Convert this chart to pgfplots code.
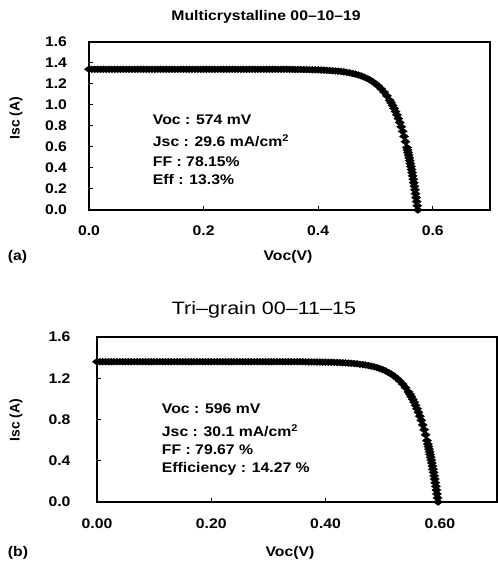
\documentclass[border=0pt]{standalone}
\usepackage{pgfplots}
\pgfplotsset{compat=1.18}
\usepackage{fontspec}
\setmainfont{Liberation Sans}
\newcommand{\lbl}{\fontsize{14}{16}\selectfont\bfseries}

\pgfplotsset{
  ivpanel/.style={
    scale only axis, anchor=south west,
    xmin=0, xmax=0.7, ymin=0, ymax=1.6,
    axis line style={line width=1.2pt},
    tick style={line width=1pt, black},
    major tick length=4pt,
    tick align=inside, xtick pos=bottom, ytick pos=left,
    ticklabel style={font=\lbl, xscale=1.13},
    /pgf/number format/assume math mode=true,
    /pgf/number format/fixed, /pgf/number format/fixed zerofill,
    mark size=4.6pt,
  },
  ivmarks/.style={only marks, mark=diamond*, black, mark options={rotate=90}},
}

\begin{document}
\begin{tikzpicture}[x=1bp,y=1bp]
\useasboundingbox (0,0) rectangle (498,563);

% (a) multicrystalline
\begin{axis}[ivpanel, at={(89bp,353bp)}, width=401bp, height=168bp,
  xtick={0,0.2,0.4,0.6}, ytick={0,0.2,...,1.6},
  xticklabel style={/pgf/number format/precision=1, yshift=-12pt},
  yticklabel style={/pgf/number format/precision=1, xshift=-16pt}]
\addplot[ivmarks] coordinates {
(0.000,1.34)(0.005,1.34)(0.010,1.34)(0.015,1.34)(0.020,1.34)(0.025,1.34)(0.030,1.34)(0.035,1.34)
(0.040,1.34)(0.045,1.34)(0.050,1.34)(0.055,1.34)(0.060,1.34)(0.065,1.34)(0.070,1.34)(0.075,1.34)
(0.080,1.34)(0.085,1.34)(0.090,1.34)(0.095,1.34)(0.100,1.34)(0.105,1.34)(0.110,1.34)(0.115,1.34)
(0.120,1.34)(0.125,1.34)(0.130,1.34)(0.135,1.34)(0.140,1.34)(0.145,1.34)(0.150,1.34)(0.155,1.34)
(0.160,1.34)(0.165,1.34)(0.170,1.34)(0.175,1.34)(0.180,1.34)(0.185,1.34)(0.190,1.34)(0.195,1.34)
(0.200,1.34)(0.205,1.34)(0.210,1.34)(0.215,1.34)(0.220,1.34)(0.225,1.34)(0.230,1.34)(0.235,1.34)
(0.240,1.34)(0.245,1.34)(0.250,1.34)(0.255,1.34)(0.260,1.34)(0.265,1.34)(0.270,1.34)(0.275,1.34)
(0.280,1.34)(0.285,1.34)(0.290,1.34)(0.295,1.34)(0.300,1.34)(0.305,1.34)(0.310,1.34)(0.315,1.34)
(0.320,1.34)(0.325,1.34)(0.330,1.34)(0.335,1.34)(0.340,1.34)(0.345,1.34)(0.350,1.34)(0.355,1.339)
(0.360,1.338)(0.365,1.338)(0.370,1.338)(0.375,1.337)(0.380,1.337)(0.385,1.336)(0.390,1.335)
(0.395,1.335)(0.400,1.334)(0.405,1.333)(0.410,1.332)(0.415,1.330)(0.420,1.328)(0.425,1.326)
(0.430,1.324)(0.435,1.322)(0.440,1.319)(0.445,1.315)(0.450,1.311)(0.455,1.306)(0.460,1.300)
(0.465,1.294)(0.470,1.286)(0.475,1.277)(0.480,1.266)(0.485,1.254)(0.490,1.240)(0.495,1.223)
(0.500,1.203)(0.505,1.181)(0.510,1.154)(0.515,1.123)(0.520,1.087)(0.525,1.045)(0.5275,1.021)
(0.530,0.995)(0.5325,0.968)(0.535,0.938)(0.5375,0.906)(0.540,0.871)(0.5425,0.833)(0.545,0.792)
(0.5475,0.749)(0.550,0.701)(0.5525,0.650)(0.555,0.595)(0.556,0.571)(0.557,0.547)(0.558,0.522)
(0.559,0.497)(0.560,0.470)(0.561,0.443)(0.562,0.415)(0.563,0.386)(0.564,0.356)(0.565,0.325)
(0.566,0.293)(0.567,0.260)(0.568,0.226)(0.569,0.192)(0.570,0.155)(0.571,0.118)(0.572,0.080)
(0.573,0.041)(0.574,0.0)
};
\end{axis}
\node[font=\lbl, xscale=1.13, anchor=base] at (266,542) {Multicrystalline 00--10--19};
\node[font=\lbl, xscale=1.13, anchor=base west] at (149,438) {Voc : 574 mV};
\node[font=\lbl, xscale=1.13, anchor=base west] at (149,416) {Jsc : 29.6 mA/cm\textsuperscript{2}};
\node[font=\lbl, xscale=1.13, anchor=base west] at (149,396) {FF : 78.15\%};
\node[font=\lbl, xscale=1.13, anchor=base west] at (149,378) {Eff : 13.3\%};
\node[font=\lbl, xscale=1.13, anchor=base] at (288,302) {Voc(V)};
\node[font=\lbl, xscale=1.13, anchor=base west] at (4,302) {(a)};
\node[font=\lbl, rotate=90, anchor=center] at (16,445) {Isc (A)};

% (b) tri-grain
\begin{axis}[ivpanel, at={(97bp,61bp)}, width=400bp, height=165bp,
  xtick={0,0.2,0.4,0.6}, ytick={0,0.4,0.8,1.2,1.6},
  xticklabel style={/pgf/number format/precision=2, yshift=-13pt},
  yticklabel style={/pgf/number format/precision=1, xshift=-20pt}]
\addplot[ivmarks] coordinates {
(0.000,1.36)(0.005,1.36)(0.010,1.36)(0.015,1.36)(0.020,1.36)(0.025,1.36)(0.030,1.36)(0.035,1.36)
(0.040,1.36)(0.045,1.36)(0.050,1.36)(0.055,1.36)(0.060,1.36)(0.065,1.36)(0.070,1.36)(0.075,1.36)
(0.080,1.36)(0.085,1.36)(0.090,1.36)(0.095,1.36)(0.100,1.36)(0.105,1.36)(0.110,1.36)(0.115,1.36)
(0.120,1.36)(0.125,1.36)(0.130,1.36)(0.135,1.36)(0.140,1.36)(0.145,1.36)(0.150,1.36)(0.155,1.36)
(0.160,1.36)(0.165,1.36)(0.170,1.36)(0.175,1.36)(0.180,1.36)(0.185,1.36)(0.190,1.36)(0.195,1.36)
(0.200,1.36)(0.205,1.36)(0.210,1.36)(0.215,1.36)(0.220,1.36)(0.225,1.36)(0.230,1.36)(0.235,1.36)
(0.240,1.36)(0.245,1.36)(0.250,1.36)(0.255,1.36)(0.260,1.36)(0.265,1.36)(0.270,1.36)(0.275,1.36)
(0.280,1.36)(0.285,1.36)(0.290,1.36)(0.295,1.36)(0.300,1.36)(0.305,1.36)(0.310,1.36)(0.315,1.36)
(0.320,1.36)(0.325,1.36)(0.330,1.36)(0.335,1.36)(0.340,1.36)(0.345,1.36)(0.350,1.36)(0.355,1.36)
(0.360,1.36)(0.365,1.359)(0.370,1.358)(0.375,1.358)(0.380,1.358)(0.385,1.357)(0.390,1.357)
(0.395,1.356)(0.400,1.356)(0.405,1.355)(0.410,1.355)(0.415,1.354)(0.420,1.353)(0.425,1.352)
(0.430,1.350)(0.435,1.349)(0.440,1.347)(0.445,1.345)(0.450,1.342)(0.455,1.340)(0.460,1.336)
(0.465,1.333)(0.470,1.328)(0.475,1.323)(0.480,1.317)(0.485,1.311)(0.490,1.303)(0.495,1.293)
(0.500,1.283)(0.505,1.271)(0.510,1.256)(0.515,1.240)(0.520,1.221)(0.525,1.198)(0.530,1.173)
(0.535,1.143)(0.540,1.108)(0.545,1.068)(0.5475,1.046)(0.550,1.021)(0.5525,0.996)(0.555,0.968)
(0.5575,0.937)(0.560,0.905)(0.5625,0.870)(0.565,0.832)(0.5675,0.792)(0.570,0.748)(0.5725,0.701)
(0.575,0.651)(0.5775,0.596)(0.579,0.562)(0.580,0.538)(0.581,0.513)(0.582,0.487)(0.583,0.461)
(0.584,0.434)(0.585,0.406)(0.586,0.378)(0.587,0.348)(0.588,0.318)(0.589,0.287)(0.590,0.254)
(0.591,0.222)(0.592,0.187)(0.593,0.152)(0.594,0.116)(0.595,0.078)(0.596,0.040)(0.597,0.0)
};
\end{axis}
\node[font=\fontsize{18}{20}\selectfont, xscale=1.2, anchor=base] at (264,248) {Tri--grain 00--11--15};
\node[font=\lbl, xscale=1.13, anchor=base west] at (158,149) {Voc : 596 mV};
\node[font=\lbl, xscale=1.13, anchor=base west] at (158,126) {Jsc : 30.1 mA/cm\textsuperscript{2}};
\node[font=\lbl, xscale=1.13, anchor=base west] at (158,108) {FF : 79.67 \%};
\node[font=\lbl, xscale=1.13, anchor=base west] at (158,90) {Efficiency : 14.27 \%};
\node[font=\lbl, xscale=1.13, anchor=base] at (290,6) {Voc(V)};
\node[font=\lbl, xscale=1.13, anchor=base west] at (4,6) {(b)};
\node[font=\lbl, rotate=90, anchor=center] at (16,143) {Isc (A)};
\end{tikzpicture}
\end{document}
